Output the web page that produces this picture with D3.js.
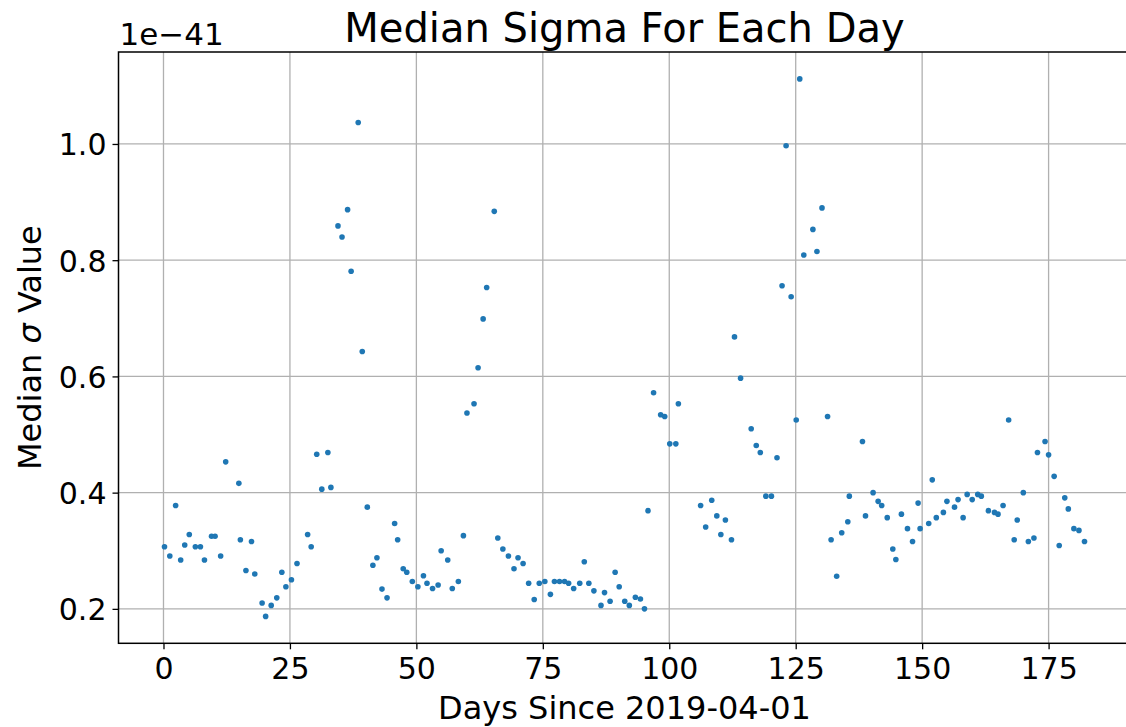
<!DOCTYPE html>
<html>
<head>
<meta charset="utf-8">
<script src="https://cdn.jsdelivr.net/npm/d3@7"></script>
<style>
  html, body { margin: 0; padding: 0; background: #fff; }
  svg { display: block; font-family: "DejaVu Sans", sans-serif; }
</style>
</head>
<body>
<svg id="chart" width="1126" height="727"></svg>
<script>
// ---- data ----
const days = [0.2,1.25,2.4,3.4,4.2,5.1,6.3,7.3,8.1,9.5,10.2,11.3,12.3,14.9,15.2,16.3,17.4,18.05,19.5,20.2,
  21.3,22.4,23.4,24.2,25.3,26.4,28.5,29.2,30.3,31.3,32.5,33.1,34.5,35.3,36.4,37.1,38.5,39.3,40.3,41.4,
  42.2,43.2,44.2,45.7,46.3,47.4,48.1,49.2,50.3,51.4,52.1,53.2,54.3,54.9,56.2,57.1,58.3,59.3,60.0,61.4,
  62.2,63.2,63.9,65.4,66.1,67.1,68.2,69.3,70.1,71.1,72.2,73.3,74.3,75.4,76.5,77.3,78.3,79.3,80.1,81.1,
  82.3,83.2,84.1,85.1,86.5,87.2,88.3,89.3,90.1,91.2,92.1,93.3,94.3,95.1,95.8,96.9,98.3,99.1,100.1,101.3,
  101.8,106.2,107.2,108.4,109.4,110.2,111.1,112.3,112.9,114.1,116.2,117.2,118.0,119.1,120.2,121.3,122.3,123.1,124.1,125.1,
  125.8,126.6,128.4,129.2,130.2,131.3,132.0,133.1,134.1,135.3,135.6,138.2,138.8,140.3,141.3,142.0,143.1,144.2,144.8,145.9,
  147.1,148.1,149.2,149.6,151.3,152.0,152.8,154.2,154.9,156.4,157.1,158.1,158.9,159.9,161.0,161.7,163.1,164.3,165.0,166.0,
  167.1,168.2,168.8,170.0,171.0,172.1,172.8,174.3,175.0,176.1,177.1,178.2,178.9,180.0,181.0,182.1];
const sigma = [0.307,0.291,0.378,0.284,0.310,0.328,0.307,0.307,0.284,0.325,0.325,0.291,0.453,0.416,0.319,0.266,0.316,0.260,0.210,0.187,
  0.206,0.219,0.263,0.238,0.250,0.278,0.328,0.307,0.466,0.406,0.469,0.409,0.859,0.840,0.887,0.781,1.037,0.643,0.375,0.275,
  0.288,0.234,0.219,0.347,0.319,0.269,0.263,0.247,0.238,0.257,0.244,0.235,0.241,0.300,0.284,0.235,0.247,0.326,0.537,0.553,
  0.615,0.699,0.753,0.884,0.322,0.303,0.291,0.269,0.288,0.278,0.244,0.216,0.244,0.247,0.225,0.247,0.247,0.247,0.244,0.235,
  0.244,0.281,0.244,0.231,0.206,0.228,0.213,0.263,0.238,0.213,0.206,0.220,0.217,0.200,0.369,0.572,0.534,0.531,0.484,0.484,
  0.553,0.378,0.341,0.387,0.360,0.328,0.353,0.319,0.668,0.597,0.510,0.481,0.469,0.394,0.394,0.460,0.756,0.997,0.737,0.525,
  1.112,0.809,0.853,0.815,0.890,0.531,0.319,0.256,0.331,0.350,0.394,0.488,0.360,0.400,0.385,0.378,0.357,0.303,0.285,0.363,
  0.338,0.316,0.382,0.338,0.347,0.422,0.357,0.366,0.385,0.375,0.388,0.357,0.397,0.388,0.397,0.394,0.369,0.366,0.363,0.378,
  0.525,0.319,0.353,0.400,0.316,0.322,0.469,0.488,0.465,0.428,0.309,0.391,0.372,0.338,0.335,0.316];
const xTicks = [0, 25, 50, 75, 100, 125, 150, 175];
const yTicks = [0.2, 0.4, 0.6, 0.8, 1.0];
const titleText = "Median Sigma For Each Day";
const xLabelText = "Days Since 2019-04-01";
const offsetText = "1e\u221241";

// ---- layout ----
const svg = d3.select("#chart");
const pLeft = 118.5, pRight = 1130.5, pTop = 52, pBottom = 643.3;

const xMin = d3.min(days), xMax = d3.max(days);
const xPad = (xMax - xMin) * 0.05;
const yMin = d3.min(sigma), yMax = d3.max(sigma);
const yPad = (yMax - yMin) * 0.05;

const x = d3.scaleLinear().domain([xMin - xPad, xMax + xPad]).range([pLeft, pRight]);
const y = d3.scaleLinear().domain([yMin - yPad, yMax + yPad]).range([pBottom, pTop]);

const gridColor = "#b0b0b0";

// grid
const grid = svg.append("g");
grid.selectAll("line.gx").data(xTicks).join("line")
  .attr("x1", d => x(d)).attr("x2", d => x(d))
  .attr("y1", pTop).attr("y2", pBottom)
  .attr("stroke", gridColor).attr("stroke-width", 1.3);
grid.selectAll("line.gy").data(yTicks).join("line")
  .attr("y1", d => y(d)).attr("y2", d => y(d))
  .attr("x1", pLeft).attr("x2", pRight)
  .attr("stroke", gridColor).attr("stroke-width", 1.3);

// axes
const xAxis = d3.axisBottom(x).tickValues(xTicks).tickFormat(d3.format("d"))
  .tickSizeInner(6).tickSizeOuter(0).tickPadding(6);
const yAxis = d3.axisLeft(y).tickValues(yTicks).tickFormat(d3.format(".1f"))
  .tickSizeInner(6).tickSizeOuter(0).tickPadding(6);

const gx = svg.append("g").attr("transform", `translate(0,${pBottom})`).call(xAxis);
const gy = svg.append("g").attr("transform", `translate(${pLeft},0)`).call(yAxis);
[gx, gy].forEach(g => {
  g.select(".domain").remove();
  g.selectAll(".tick line").attr("stroke", "#000").attr("stroke-width", 1.3);
  g.selectAll(".tick text").attr("fill", "#000")
    .style("font-family", "'DejaVu Sans', sans-serif").style("font-size", "30px");
});
gx.selectAll(".tick text").attr("dy", "0.78em");
gy.selectAll(".tick text").attr("dy", "0.36em");

// points
svg.append("g").selectAll("circle").data(days.map((d, i) => [d, sigma[i]])).join("circle")
  .attr("cx", d => x(d[0])).attr("cy", d => y(d[1])).attr("r", 2.8)
  .attr("fill", "#1f77b4");

// frame
svg.append("rect").attr("x", pLeft).attr("y", pTop)
  .attr("width", pRight - pLeft).attr("height", pBottom - pTop)
  .attr("fill", "none").attr("stroke", "#000").attr("stroke-width", 1.5);

// texts
svg.append("text").attr("x", (pLeft + pRight) / 2).attr("y", 42)
  .attr("text-anchor", "middle").style("font-size", "40px").attr("fill", "#000")
  .text(titleText);

svg.append("text").attr("x", pLeft + 1).attr("y", 45)
  .attr("text-anchor", "start").style("font-size", "31px").attr("fill", "#000")
  .text(offsetText);

svg.append("text").attr("x", (pLeft + pRight) / 2).attr("y", 719)
  .attr("text-anchor", "middle").style("font-size", "32px").attr("fill", "#000")
  .text(xLabelText);

const yl = svg.append("text")
  .attr("transform", `translate(41,${(pTop + pBottom) / 2}) rotate(-90)`)
  .attr("text-anchor", "middle").style("font-size", "32px").attr("fill", "#000");
yl.append("tspan").text("Median ");
yl.append("tspan").style("font-style", "italic").text("\u03c3");
yl.append("tspan").text(" Value");
</script>
</body>
</html>
